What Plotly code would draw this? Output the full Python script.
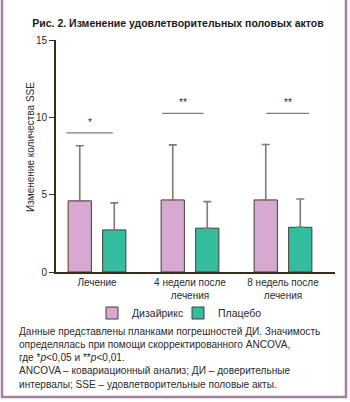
import plotly.graph_objects as go

# ---- data ----
categories = ["Лечение", "4 недели после<br>лечения", "8 недель после<br>лечения"]
disairix = [4.6, 4.66, 4.66]
disairix_ci_upper = [8.16, 8.22, 8.24]
placebo = [2.72, 2.83, 2.89]
placebo_ci_upper = [4.47, 4.55, 4.72]
sig_labels = ["*", "**", "**"]
sig_levels = [9.0, 10.25, 10.25]
y_ticks = [0, 5, 10, 15]

# ---- style ----
FONT = "Liberation Sans, Arial, sans-serif"
PINK = "#d8a9d0"
TEAL = "#34bc9f"
OUTLINE = "#4a3d31"
AXIS = "#3a2a18"
ERR = "#857a6f"
BORDER = "#a47fa2"
TXT = "#2a2a2a"
sig_spans = [(-0.33, 0.17), (-0.30, 0.145), (-0.18, 0.28)]

x_idx = list(range(len(categories)))

def plus(vals, upper):
    return [u - v for v, u in zip(vals, upper)]

fig = go.Figure()
fig.add_trace(go.Bar(
    x=x_idx, y=disairix, name="Дизайрикс",
    marker=dict(color=PINK, line=dict(color=OUTLINE, width=1)),
    error_y=dict(type="data", symmetric=False, array=plus(disairix, disairix_ci_upper),
                 arrayminus=[0] * 3, color=ERR, thickness=1.6, width=4),
))
fig.add_trace(go.Bar(
    x=x_idx, y=placebo, name="Плацебо",
    marker=dict(color=TEAL, line=dict(color=OUTLINE, width=1)),
    error_y=dict(type="data", symmetric=False, array=plus(placebo, placebo_ci_upper),
                 arrayminus=[0] * 3, color=ERR, thickness=1.6, width=4),
))

# significance brackets
for i, (lab, lev, (a, b)) in enumerate(zip(sig_labels, sig_levels, sig_spans)):
    fig.add_shape(type="line", xref="x", yref="y", x0=i + a, x1=i + b, y0=lev, y1=lev,
                  line=dict(color=ERR, width=1.2))
    fig.add_annotation(x=i + (a + b) / 2, y=lev, xref="x", yref="y", text=lab,
                       showarrow=False, yanchor="bottom", yshift=3,
                       font=dict(family=FONT, size=10, color=TXT))

L, R, T, B = 56, 15, 40, 130
W, H = 350, 402
pw, ph = W - L - R, H - T - B

def px(x):
    return (x - L) / pw

def py(y):
    return (H - B - y) / ph

# outer frame
fig.add_shape(type="rect", xref="paper", yref="paper",
              x0=px(2), x1=px(346), y0=py(397), y1=py(-5),
              line=dict(color=BORDER, width=2.5), fillcolor="rgba(0,0,0,0)", layer="above")

# y-axis title
fig.add_annotation(xref="paper", yref="paper", x=px(30), y=py(147),
                   xanchor="center", yanchor="middle",
                   text="Изменение количества SSE", textangle=-90, showarrow=False,
                   font=dict(family=FONT, size=10, color=TXT))

# caption
caption = ("Данные представлены планками погрешностей ДИ. Значимость<br>"
           "определялась при помощи скорректированного ANCOVA,<br>"
           "где *<i>p</i>&lt;0,05 и **<i>p</i>&lt;0,01.<br>"
           "ANCOVA – ковариационный анализ; ДИ – доверительные<br>"
           "интервалы; SSE – удовлетворительные половые акты.")
fig.add_annotation(xref="paper", yref="paper", x=px(17), y=py(324),
                   xanchor="left", yanchor="top", align="left", text=caption,
                   showarrow=False, font=dict(family=FONT, size=10.1, color=TXT))

fig.update_layout(
    width=W, height=H,
    margin=dict(l=L, r=R, t=T, b=B),
    paper_bgcolor="white", plot_bgcolor="white",
    barmode="group", bargap=0.258, bargroupgap=0.326,
    font=dict(family=FONT, size=10, color=TXT),
    title=dict(text="<b>Рис. 2. Изменение удовлетворительных половых актов</b>",
               x=178 / W, xanchor="center", y=1 - 23 / H, yanchor="middle",
               font=dict(family=FONT, size=10.5, color="#1a1a1a")),
    legend=dict(orientation="h", x=px(92), xanchor="left", y=py(313), yanchor="middle",
                font=dict(family=FONT, size=10.5, color=TXT), traceorder="normal",
                entrywidth=41, entrywidthmode="pixels",
                bgcolor="rgba(0,0,0,0)"),
    showlegend=True,
)
fig.update_xaxes(
    range=[-0.441, 2.559], tickvals=x_idx, ticktext=categories,
    showline=True, linecolor=AXIS, linewidth=2, ticks="", showgrid=False, zeroline=False,
    tickfont=dict(family=FONT, size=10, color=TXT),
)
fig.update_yaxes(
    range=[0, 15], tickvals=y_ticks, showline=True, linecolor=AXIS, linewidth=2,
    ticks="outside", ticklen=5, tickcolor=AXIS, tickwidth=1, showgrid=False, zeroline=False,
    tickfont=dict(family=FONT, size=10, color=TXT),
)

fig.write_html("out.html")
